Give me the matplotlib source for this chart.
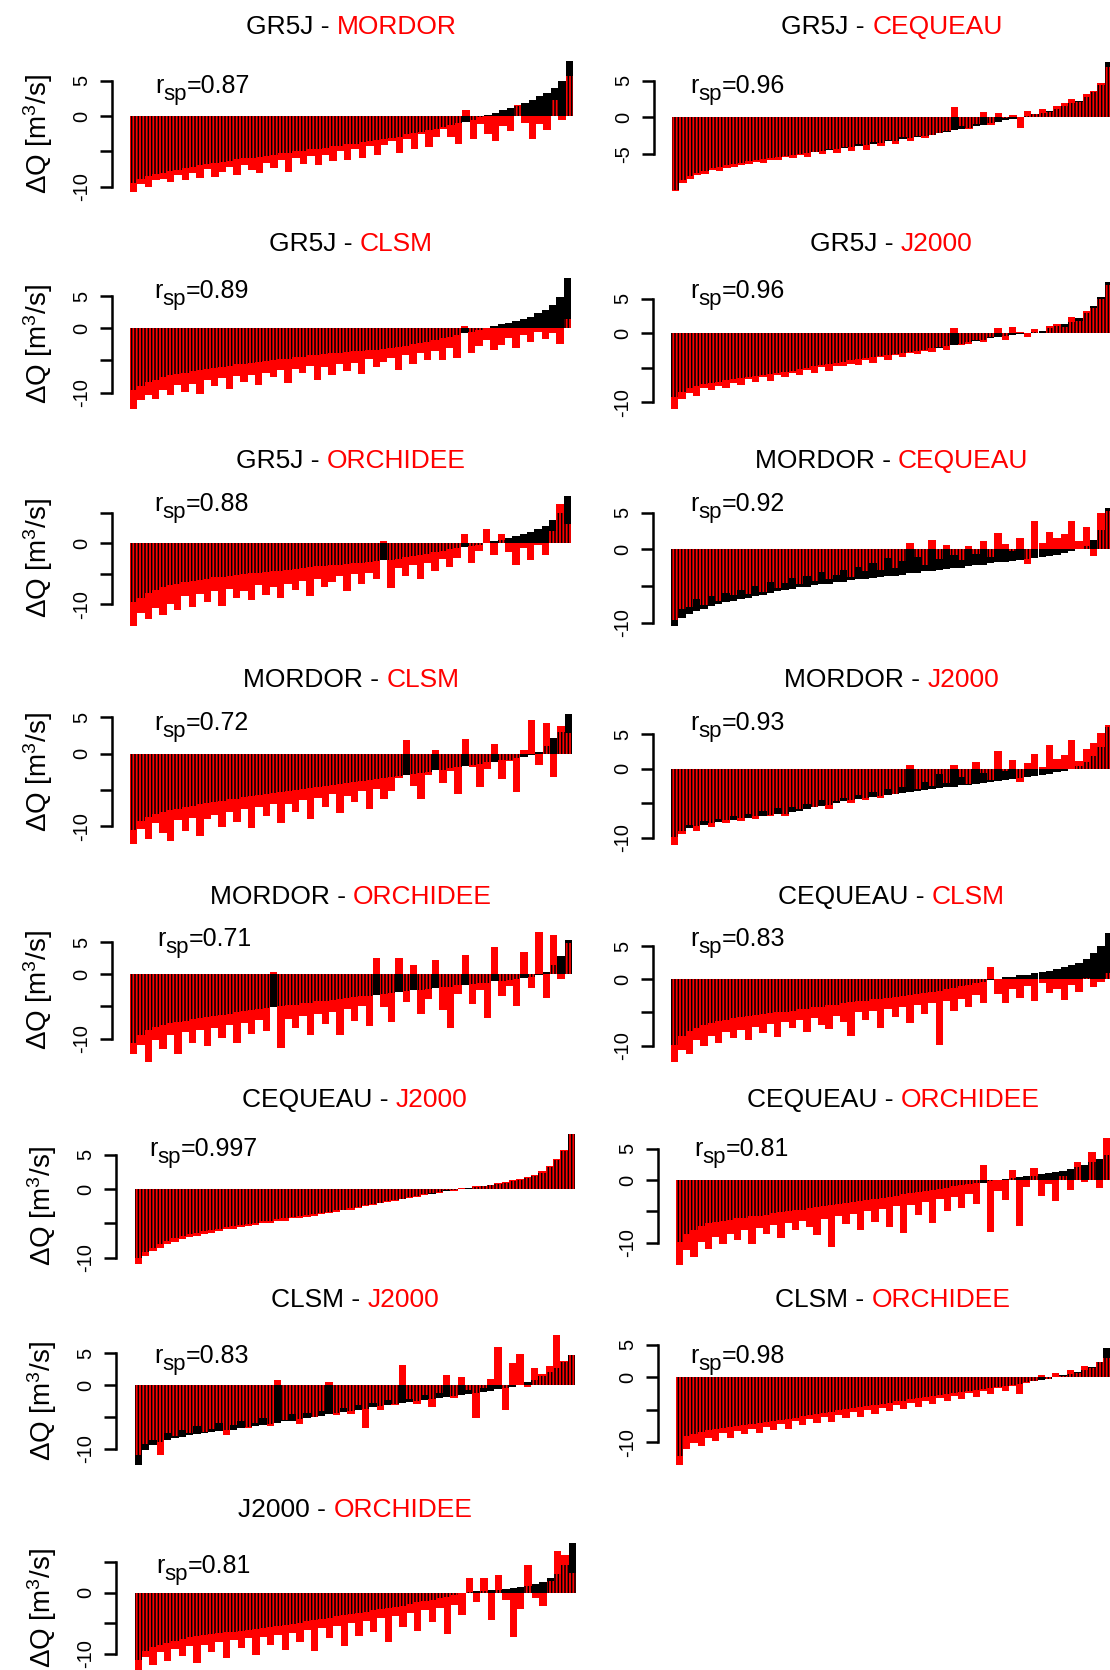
import numpy as np
import matplotlib
matplotlib.use("Agg")
import matplotlib.pyplot as plt

plt.rcParams['font.family'] = ['Liberation Sans', 'DejaVu Sans']
plt.rcParams['mathtext.fontset'] = 'custom'
plt.rcParams['mathtext.rm'] = 'Liberation Sans'
plt.rcParams['mathtext.it'] = 'Liberation Sans'
plt.rcParams['mathtext.default'] = 'regular'
plt.rcParams['hatch.linewidth'] = 1.1

# model pairs: first model (black, sorted), second model (red)
pairs = [("GR5J", "MORDOR"), ("GR5J", "CEQUEAU"), ("GR5J", "CLSM"), ("GR5J", "J2000"),
         ("GR5J", "ORCHIDEE"), ("MORDOR", "CEQUEAU"), ("MORDOR", "CLSM"), ("MORDOR", "J2000"),
         ("MORDOR", "ORCHIDEE"), ("CEQUEAU", "CLSM"), ("CEQUEAU", "J2000"), ("CEQUEAU", "ORCHIDEE"),
         ("CLSM", "J2000"), ("CLSM", "ORCHIDEE"), ("J2000", "ORCHIDEE")]
rsp = ["0.87", "0.96", "0.89", "0.96", "0.88", "0.92", "0.72", "0.93",
       "0.71", "0.83", "0.997", "0.81", "0.83", "0.98", "0.81"]

# delta Q [m3/s] per catchment (sorted by the first model)
gr5j_mordor_black = [-9.5, -8.9, -8.5, -8.2, -8.0, -7.8, -7.6, -7.4, -7.2, -7.0,
                     -6.8, -6.6, -6.5, -6.3, -6.1, -6.0, -5.9, -5.8, -5.6, -5.5,
                     -5.3, -5.2, -5.0, -4.9, -4.7, -4.6, -4.5, -4.3, -4.2, -4.0,
                     -3.9, -3.7, -3.6, -3.4, -3.2, -3.1, -2.9, -2.6, -2.4, -2.2,
                     -2.0, -1.8, -1.5, -1.3, -1.0, -0.8, -0.5, -0.2, 0.1, 0.4,
                     0.8, 1.1, 1.4, 1.8, 2.3, 2.8, 3.3, 4.0, 5.0, 7.8]
gr5j_mordor_red = [-10.7, -9.6, -10.1, -9.0, -8.9, -9.4, -8.3, -9.1, -8.0, -8.8,
                   -7.5, -8.6, -7.9, -7.2, -8.4, -6.9, -7.6, -8.0, -6.6, -7.3,
                   -6.2, -7.9, -6.0, -6.8, -5.7, -7.0, -5.5, -6.4, -5.0, -6.2,
                   -4.7, -5.9, -4.3, -5.5, -4.1, -3.5, -5.2, -3.2, -4.6, -2.6,
                   -4.4, -3.0, -1.8, -2.9, -4.0, 0.9, -3.2, -1.1, -2.5, -3.6,
                   -1.4, -2.1, 1.5, -1.0, -3.3, -1.2, -2.0, 2.2, -0.5, 5.6]

gr5j_cequeau_black = [-10.0, -8.6, -8.0, -7.6, -7.3, -7.0, -6.8, -6.6, -6.4, -6.2,
                      -6.0, -5.9, -5.7, -5.6, -5.4, -5.3, -5.1, -5.0, -4.9, -4.7,
                      -4.6, -4.5, -4.3, -4.2, -4.0, -3.9, -3.8, -3.6, -3.5, -3.3,
                      -3.2, -3.0, -2.9, -2.7, -2.5, -2.4, -2.2, -2.0, -1.8, -1.6,
                      -1.4, -1.2, -1.0, -0.8, -0.6, -0.4, -0.2, 0.0, 0.2, 0.4,
                      0.6, 0.9, 1.2, 1.5, 1.9, 2.3, 2.8, 3.4, 4.4, 7.6]
gr5j_cequeau_red = [-10.1, -9.0, -8.5, -7.9, -7.8, -7.2, -7.3, -6.9, -6.8, -6.5,
                    -6.4, -6.1, -6.3, -5.8, -5.9, -5.4, -5.6, -5.1, -5.4, -4.8,
                    -5.0, -4.4, -4.9, -4.1, -4.6, -3.7, -4.5, -3.4, -3.9, -3.1,
                    -3.6, -2.7, -3.3, -2.5, -2.9, -2.4, -2.1, -1.9, 1.4, -1.2,
                    -1.6, -0.9, 0.7, -1.1, 0.6, -0.1, 0.3, -1.5, 0.8, 0.5,
                    1.2, 0.7, 1.6, 1.9, 2.5, 2.1, 3.2, 3.6, 4.7, 6.9]

gr5j_clsm_black = [-9.6, -8.9, -8.4, -8.0, -7.6, -7.3, -7.1, -6.9, -6.7, -6.5,
                   -6.3, -6.1, -6.0, -5.8, -5.6, -5.5, -5.4, -5.2, -5.1, -5.0,
                   -4.8, -4.7, -4.5, -4.4, -4.2, -4.1, -4.0, -3.9, -3.8, -3.7,
                   -3.6, -3.5, -3.4, -3.3, -3.2, -3.1, -2.9, -2.7, -2.5, -2.3,
                   -2.1, -1.8, -1.5, -1.3, -1.0, -0.8, -0.5, -0.2, 0.0, 0.3,
                   0.6, 0.9, 1.2, 1.5, 1.8, 2.3, 2.9, 3.6, 4.8, 7.8]
gr5j_clsm_red = [-12.6, -11.2, -10.3, -11.0, -9.6, -10.4, -8.8, -9.9, -8.6, -10.2,
                 -8.1, -9.0, -7.7, -9.5, -7.4, -8.3, -7.2, -8.8, -6.9, -7.6,
                 -6.5, -8.5, -6.3, -7.0, -5.9, -8.1, -6.0, -7.3, -5.6, -6.6,
                 -5.4, -7.1, -4.7, -6.0, -5.3, -4.6, -6.5, -4.2, -5.5, -3.8,
                 -4.9, -3.5, -5.0, -3.0, -4.6, 0.3, -3.9, -2.8, -1.8, -3.4,
                 -2.6, -1.5, -3.1, -1.0, -2.2, -0.6, -1.7, -0.8, -2.4, 1.4]

gr5j_j2000_black = [-9.2, -8.5, -8.0, -7.7, -7.4, -7.2, -7.0, -6.8, -6.7, -6.5,
                    -6.3, -6.2, -6.0, -5.9, -5.7, -5.6, -5.4, -5.2, -5.0, -4.8,
                    -4.6, -4.5, -4.3, -4.1, -3.9, -3.8, -3.6, -3.5, -3.3, -3.2,
                    -3.0, -2.9, -2.7, -2.6, -2.4, -2.2, -2.1, -1.9, -1.7, -1.5,
                    -1.3, -1.1, -0.9, -0.7, -0.6, -0.4, -0.3, -0.1, 0.0, 0.2,
                    0.4, 0.7, 1.0, 1.3, 1.7, 2.2, 2.9, 3.9, 5.2, 7.5]
gr5j_j2000_red = [-11.0, -9.6, -8.6, -9.1, -8.0, -8.3, -7.6, -7.9, -7.2, -7.5,
                  -6.7, -7.1, -6.4, -6.9, -6.1, -6.3, -5.8, -6.0, -5.3, -5.7,
                  -4.9, -5.5, -4.7, -4.8, -4.4, -4.6, -3.9, -4.3, -3.5, -3.9,
                  -3.1, -3.4, -2.8, -3.0, -2.5, -2.7, -2.0, -2.4, 0.8, -1.7,
                  -1.5, -1.0, -1.3, -0.5, 0.7, -1.0, 0.9, 0.2, -0.5, 0.6,
                  0.1, 1.0, 1.4, 0.9, 2.3, 1.8, 3.2, 3.6, 5.0, 7.0]

gr5j_orchidee_black = [-9.7, -8.9, -8.2, -7.7, -7.2, -6.9, -6.6, -6.4, -6.2, -6.0,
                       -5.8, -5.6, -5.5, -5.3, -5.2, -5.0, -4.9, -4.8, -4.7, -4.6,
                       -4.5, -4.4, -4.2, -4.1, -3.9, -3.8, -3.7, -3.6, -3.5, -3.4,
                       -3.3, -3.2, -3.1, -2.9, -2.8, -2.7, -2.5, -2.3, -2.1, -1.9,
                       -1.7, -1.5, -1.3, -1.0, -0.8, -0.6, -0.4, -0.2, 0.0, 0.3,
                       0.6, 0.9, 1.2, 1.5, 1.9, 2.3, 2.9, 3.8, 5.0, 7.7]
gr5j_orchidee_red = [-13.6, -11.5, -12.4, -10.6, -11.8, -9.9, -10.9, -8.7, -10.5, -8.3,
                     -9.6, -7.8, -10.2, -7.5, -8.9, -7.9, -9.3, -6.8, -8.4, -7.2,
                     -9.0, -6.6, -7.7, -6.1, -8.6, -5.8, -7.1, -6.3, -5.4, -7.9,
                     -5.1, -6.6, -4.8, -5.9, 0.4, -7.3, -4.0, -5.4, -3.6, -5.8,
                     -3.2, -4.5, -2.6, -3.9, -2.4, 1.6, -3.3, -1.2, 2.4, -2.0,
                     1.6, -1.5, -3.6, -0.7, -2.8, -0.2, -1.9, 2.0, 6.5, 3.2]

mordor_cequeau_black = [-10.5, -9.4, -8.8, -8.4, -8.1, -7.8, -7.5, -7.2, -7.0, -6.8,
                        -6.6, -6.4, -6.2, -5.9, -5.7, -5.5, -5.4, -5.2, -5.1, -4.9,
                        -4.8, -4.7, -4.5, -4.4, -4.2, -4.1, -4.0, -3.9, -3.8, -3.7,
                        -3.6, -3.5, -3.3, -3.2, -3.0, -2.9, -2.8, -2.7, -2.6, -2.5,
                        -2.3, -2.2, -2.1, -1.9, -1.8, -1.7, -1.6, -1.5, -1.3, -1.2,
                        -1.1, -0.9, -0.8, -0.5, -0.2, 0.0, 0.5, 1.3, 2.6, 5.6]
mordor_cequeau_red = [-9.6, -8.1, -7.9, -6.8, -7.6, -6.4, -7.0, -5.9, -6.3, -5.6,
                      -6.1, -5.0, -5.8, -4.4, -5.3, -4.6, -3.9, -4.8, -3.6, -4.3,
                      -3.1, -4.0, -3.5, -2.8, -3.8, -2.4, -3.0, -1.9, -2.8, -1.2,
                      -2.5, -1.6, 0.8, -1.0, -2.2, 1.3, -1.3, 0.6, -0.8, -1.5,
                      0.4, -0.6, 1.2, -1.1, 2.2, 0.7, -0.3, 1.5, -2.0, 3.8,
                      0.8, 2.4, 1.6, 2.1, 3.8, 1.2, 3.1, -0.9, 4.9, 5.2]

mordor_clsm_black = [-10.5, -9.3, -8.7, -8.3, -8.0, -7.8, -7.6, -7.4, -7.2, -7.0,
                     -6.8, -6.6, -6.5, -6.3, -6.2, -6.0, -5.9, -5.7, -5.6, -5.4,
                     -5.3, -5.1, -5.0, -4.9, -4.7, -4.6, -4.5, -4.3, -4.2, -4.0,
                     -3.9, -3.8, -3.6, -3.5, -3.3, -3.2, -3.1, -2.9, -2.8, -2.6,
                     -2.5, -2.3, -2.2, -2.0, -1.8, -1.7, -1.5, -1.4, -1.2, -1.1,
                     -0.9, -0.8, -0.6, -0.4, -0.2, 0.3, 1.0, 2.1, 3.0, 5.5]
mordor_clsm_red = [-12.5, -10.4, -11.8, -9.6, -10.9, -12.0, -9.2, -10.6, -8.8, -11.3,
                   -9.0, -8.4, -10.1, -8.0, -9.4, -7.6, -10.3, -7.3, -8.6, -7.0,
                   -9.6, -6.9, -8.1, -6.4, -9.0, -6.1, -7.4, -5.6, -8.2, -5.8,
                   -6.7, -5.2, -7.6, -4.9, -6.3, -5.1, -3.4, 1.9, -4.4, -6.2,
                   -3.0, 0.5, -4.0, -2.4, -5.5, 2.0, -1.9, -4.6, -2.1, 1.4,
                   -3.5, -1.0, -5.3, 0.5, 4.6, -1.6, 4.3, -3.2, 3.8, 2.8]

mordor_j2000_black = [-9.9, -9.1, -8.6, -8.3, -8.1, -7.9, -7.7, -7.5, -7.4, -7.2,
                      -7.1, -6.9, -6.8, -6.7, -6.6, -6.5, -6.3, -6.1, -5.8, -5.6,
                      -5.4, -5.2, -5.0, -4.7, -4.5, -4.4, -4.2, -4.1, -3.9, -3.8,
                      -3.6, -3.5, -3.4, -3.2, -3.1, -3.0, -2.8, -2.7, -2.6, -2.4,
                      -2.3, -2.2, -2.0, -1.9, -1.8, -1.6, -1.5, -1.3, -1.2, -1.0,
                      -0.9, -0.7, -0.5, -0.3, 0.0, 0.4, 1.0, 1.8, 3.2, 6.0]
mordor_j2000_red = [-11.1, -9.4, -8.2, -9.0, -7.6, -8.4, -7.3, -7.9, -6.9, -7.6,
                    -6.6, -7.3, -6.2, -6.9, -5.7, -6.8, -5.5, -5.9, -5.1, -5.6,
                    -4.6, -5.8, -4.7, -4.3, -4.9, -3.8, -4.5, -3.4, -4.3, -2.9,
                    -3.6, -2.6, 0.6, -3.0, -1.9, -2.5, -0.8, -2.1, 0.5, -1.2,
                    -2.2, 0.9, -0.6, -1.6, 2.6, -0.3, 1.2, -1.9, 0.8, 2.1,
                    0.3, 3.4, 1.4, 2.0, 4.2, 1.1, 2.9, 3.7, 5.2, 6.3]

mordor_orchidee_black = [-10.7, -9.4, -8.6, -8.2, -7.9, -7.6, -7.4, -7.2, -7.0, -6.8,
                         -6.6, -6.4, -6.3, -6.1, -5.9, -5.7, -5.5, -5.4, -5.2, -5.1,
                         -5.0, -4.8, -4.7, -4.5, -4.4, -4.2, -4.1, -4.0, -3.8, -3.7,
                         -3.6, -3.4, -3.3, -3.2, -3.0, -2.9, -2.8, -2.6, -2.5, -2.4,
                         -2.3, -2.1, -2.0, -1.9, -1.7, -1.6, -1.5, -1.4, -1.3, -1.1,
                         -1.0, -0.9, -0.7, -0.6, -0.4, -0.1, 0.4, 1.4, 2.8, 5.4]
mordor_orchidee_red = [-12.3, -11.0, -13.6, -10.2, -11.6, -9.5, -12.4, -9.0, -10.7, -8.6,
                       -11.2, -8.3, -9.9, -7.9, -10.6, -7.6, -9.2, -7.1, -8.8, 0.3,
                       -11.4, -6.9, -8.3, -6.4, -9.5, -6.1, -7.7, -5.8, -9.4, -5.4,
                       -7.2, -4.9, -8.0, 2.5, -5.1, -7.4, 2.5, -4.3, 1.4, -6.1,
                       -3.8, 2.2, -5.5, -8.4, -3.1, 3.0, -4.6, -2.5, -6.8, 4.3,
                       -3.4, -1.8, -5.0, 3.5, -2.2, 6.6, -3.7, 6.1, -0.8, 4.8]

cequeau_clsm_black = [-9.9, -8.6, -7.8, -7.3, -6.9, -6.6, -6.3, -6.1, -5.9, -5.7,
                      -5.6, -5.4, -5.3, -5.1, -5.0, -4.9, -4.7, -4.5, -4.4, -4.2,
                      -4.1, -3.9, -3.8, -3.6, -3.4, -3.3, -3.2, -3.0, -2.9, -2.8,
                      -2.7, -2.5, -2.4, -2.2, -2.1, -1.9, -1.7, -1.5, -1.3, -1.0,
                      -0.8, -0.6, -0.4, -0.1, 0.1, 0.3, 0.4, 0.6, 0.7, 0.9,
                      1.1, 1.3, 1.5, 1.8, 2.1, 2.5, 3.0, 3.9, 5.0, 7.0]
cequeau_clsm_red = [-12.5, -10.6, -11.3, -9.2, -10.1, -8.5, -9.6, -8.0, -8.8, -7.6,
                    -9.2, -7.2, -8.1, -6.8, -8.7, -6.5, -7.4, -6.2, -8.0, -5.8,
                    -6.9, -7.5, -5.5, -6.4, -8.6, -5.0, -6.1, -4.8, -7.3, -4.5,
                    -5.7, -4.2, -6.6, -3.9, -5.3, -3.5, -9.9, -3.3, -4.8, -2.9,
                    -4.2, -2.4, -3.6, 1.9, -2.2, -3.5, -1.4, -2.8, -1.0, -3.3,
                    -0.6, -2.1, -1.5, -3.1, -0.8, -1.9, 0.2, -1.2, -0.4, 0.9]

cequeau_j2000_black = [-10.0, -9.2, -8.6, -8.1, -7.6, -7.2, -6.9, -6.6, -6.4, -6.2,
                       -6.0, -5.8, -5.6, -5.4, -5.2, -5.1, -4.9, -4.7, -4.6, -4.4,
                       -4.3, -4.1, -4.0, -3.8, -3.7, -3.5, -3.3, -3.1, -3.0, -2.8,
                       -2.6, -2.4, -2.2, -2.0, -1.8, -1.6, -1.4, -1.2, -1.0, -0.8,
                       -0.7, -0.5, -0.3, -0.2, 0.0, 0.1, 0.3, 0.4, 0.6, 0.7,
                       0.9, 1.1, 1.3, 1.6, 1.9, 2.4, 3.2, 4.2, 5.5, 8.0]
cequeau_j2000_red = [-10.9, -9.8, -9.0, -8.6, -8.0, -7.7, -7.3, -7.0, -6.8, -6.5,
                     -6.4, -6.1, -5.9, -5.8, -5.5, -5.4, -5.2, -5.0, -4.9, -4.6,
                     -4.6, -4.3, -4.2, -4.1, -3.9, -3.7, -3.5, -3.4, -3.1, -3.0,
                     -2.8, -2.5, -2.4, -2.1, -1.9, -1.8, -1.5, -1.3, -1.1, -0.9,
                     -0.6, -0.6, -0.2, -0.3, 0.2, 0.0, 0.4, 0.5, 0.6, 0.9,
                     1.0, 1.3, 1.4, 1.8, 2.0, 2.6, 3.3, 4.4, 5.7, 8.0]

cequeau_orchidee_black = [-9.8, -8.6, -7.9, -7.3, -6.9, -6.7, -6.5, -6.3, -6.1, -6.0,
                          -5.8, -5.7, -5.5, -5.3, -5.1, -5.0, -4.8, -4.7, -4.5, -4.3,
                          -4.2, -4.0, -3.8, -3.7, -3.5, -3.3, -3.2, -3.0, -2.8, -2.7,
                          -2.5, -2.3, -2.1, -1.9, -1.7, -1.6, -1.4, -1.2, -1.0, -0.8,
                          -0.7, -0.5, -0.4, -0.2, 0.0, 0.1, 0.3, 0.4, 0.6, 0.7,
                          0.9, 1.1, 1.2, 1.4, 1.7, 2.0, 2.4, 2.9, 3.4, 4.0]
cequeau_orchidee_red = [-13.5, -11.2, -12.3, -9.9, -11.0, -9.1, -10.2, -8.6, -9.5, -8.0,
                        -10.1, -7.7, -8.6, -7.1, -9.3, -6.8, -8.0, -6.5, -7.4, -8.7,
                        -6.2, -10.6, -5.8, -7.0, -5.4, -8.0, -5.0, -6.6, -4.6, -7.4,
                        -4.2, -8.5, -3.9, -5.6, -3.5, -6.9, -3.1, -5.0, -2.7, -4.4,
                        -2.2, -3.8, 2.4, -8.2, -1.8, -3.2, 1.6, -7.3, -1.1, 1.9,
                        -2.5, -0.6, -3.4, 0.6, -1.6, 2.8, -0.3, 4.5, -1.2, 6.6]

clsm_j2000_black = [-12.6, -10.2, -9.4, -8.9, -8.6, -8.3, -8.1, -7.9, -7.7, -7.5,
                    -7.4, -7.2, -7.1, -7.0, -6.8, -6.6, -6.5, -6.3, -6.1, -5.9,
                    -5.7, -5.6, -5.4, -5.2, -5.0, -4.8, -4.6, -4.4, -4.3, -4.1,
                    -3.9, -3.7, -3.5, -3.3, -3.1, -3.0, -2.8, -2.6, -2.5, -2.3,
                    -2.2, -2.0, -1.9, -1.7, -1.6, -1.4, -1.3, -1.1, -0.9, -0.7,
                    -0.5, -0.3, 0.0, 0.4, 0.8, 1.4, 2.0, 2.7, 3.6, 4.7]
clsm_j2000_red = [-11.0, -9.3, -8.6, -10.9, -7.6, -8.0, -7.1, -7.6, -6.5, -7.3,
                  -6.9, -6.0, -7.8, -6.2, -5.6, -6.8, -5.9, -5.1, -6.4, 0.8,
                  -5.5, -4.6, -6.1, -4.4, -5.0, -4.1, 0.4, -4.7, -3.6, -4.6,
                  -3.1, -6.8, -2.8, -3.9, -2.4, -3.2, 3.1, -2.2, -2.9, -1.6,
                  -3.4, -1.2, 1.6, -2.0, 1.3, -0.8, -5.2, -0.5, 1.0, 5.9,
                  -3.9, 3.4, 4.9, -0.3, 2.6, 1.7, 2.9, 7.8, 3.8, 4.7]

clsm_orchidee_black = [-12.2, -9.1, -8.7, -8.4, -8.1, -7.9, -7.8, -7.6, -7.5, -7.3,
                       -7.2, -7.0, -6.9, -6.7, -6.6, -6.4, -6.2, -6.0, -5.8, -5.7,
                       -5.5, -5.3, -5.1, -4.9, -4.8, -4.6, -4.4, -4.3, -4.1, -3.9,
                       -3.7, -3.6, -3.4, -3.2, -3.1, -2.9, -2.8, -2.6, -2.4, -2.3,
                       -2.1, -2.0, -1.8, -1.6, -1.5, -1.3, -1.2, -1.0, -0.8, -0.6,
                       -0.4, -0.2, 0.0, 0.3, 0.5, 0.8, 1.1, 1.6, 2.4, 4.5]
clsm_orchidee_red = [-13.5, -11.0, -10.1, -10.6, -9.3, -9.8, -8.6, -9.4, -8.3, -8.8,
                     -7.9, -8.6, -7.6, -8.1, -7.2, -7.9, -6.8, -7.4, -6.5, -7.1,
                     -6.1, -6.9, -5.8, -6.3, -5.4, -6.1, -5.0, -5.7, -4.7, -5.2,
                     -4.3, -4.9, -3.9, -4.5, -3.6, -4.1, -3.2, -3.7, -2.9, -3.3,
                     -2.4, -3.0, -2.1, -2.5, -1.7, -2.1, -1.3, -2.5, -0.9, -0.6,
                     0.3, -0.2, 0.6, 0.2, 1.1, 0.7, 1.8, 1.4, 2.3, 3.0]

j2000_orchidee_black = [-11.1, -9.6, -8.9, -8.5, -8.2, -7.9, -7.6, -7.3, -7.1, -6.9,
                        -6.8, -6.6, -6.5, -6.4, -6.3, -6.1, -6.0, -5.8, -5.6, -5.4,
                        -5.3, -5.1, -4.9, -4.7, -4.5, -4.3, -4.1, -3.9, -3.7, -3.5,
                        -3.3, -3.1, -2.9, -2.7, -2.5, -2.3, -2.1, -1.8, -1.6, -1.4,
                        -1.2, -0.9, -0.7, -0.4, -0.1, 0.1, 0.2, 0.3, 0.4, 0.5,
                        0.6, 0.7, 0.9, 1.1, 1.4, 1.8, 2.4, 3.1, 4.5, 8.1]
j2000_orchidee_red = [-12.7, -10.5, -11.9, -9.7, -11.2, -9.3, -10.4, -8.7, -11.6, -8.5,
                      -9.8, -8.0, -10.7, -7.8, -9.1, -7.5, -10.2, -7.2, -8.6, -6.9,
                      -9.4, -6.6, -8.0, -6.1, -9.6, -5.8, -7.5, -5.4, -8.8, -5.0,
                      -7.1, -4.6, -6.4, -4.2, -8.1, -3.8, -5.7, -3.4, -6.2, -2.9,
                      -4.8, -2.5, -6.7, -2.0, -3.6, 2.4, -1.6, 2.4, -4.5, 2.9,
                      -1.2, -7.3, -2.6, 4.6, -0.8, -2.2, 1.9, 6.8, 6.2, 3.2]

black_series = [gr5j_mordor_black, gr5j_cequeau_black, gr5j_clsm_black, gr5j_j2000_black,
                gr5j_orchidee_black, mordor_cequeau_black, mordor_clsm_black, mordor_j2000_black,
                mordor_orchidee_black, cequeau_clsm_black, cequeau_j2000_black,
                cequeau_orchidee_black, clsm_j2000_black, clsm_orchidee_black,
                j2000_orchidee_black]
red_series = [gr5j_mordor_red, gr5j_cequeau_red, gr5j_clsm_red, gr5j_j2000_red,
              gr5j_orchidee_red, mordor_cequeau_red, mordor_clsm_red, mordor_j2000_red,
              mordor_orchidee_red, cequeau_clsm_red, cequeau_j2000_red,
              cequeau_orchidee_red, clsm_j2000_red, clsm_orchidee_red,
              j2000_orchidee_red]

# layout, in pixels of the 1110x1670 output
W, H = 1110, 1670
bar_left = [130, 672, 130, 671, 130, 671, 130, 671, 130, 671, 134.5, 676, 134.5, 676, 134.5]
bar_right = [573, 1112, 571, 1112, 571, 1112, 572, 1112, 572, 1112, 575, 1110, 575, 1110, 576]
zero_px = [116, 117.3, 328.3, 333.3, 543.3, 549.3, 753.7, 768.7, 974.3, 979.3,
           1189, 1180, 1385, 1377.3, 1592.7]
px_per_unit = [7.07, 7.3, 6.44, 6.89, 6.1, 7.33, 7.25, 6.9, 6.44, 6.64,
               6.85, 6.29, 6.38, 6.49, 6.1]
title_px = [25, 241.7, 459.3, 678.3, 895, 1098.3, 1298.3, 1508.3]
rsp_px = [85, 290, 503.3, 721.7, 938.3, 1148.3, 1355, 1565]
rsp_left_x = [155, 154, 154, 154, 157, 149, 154, 156]
rsp_right_x = [690, 690, 690, 690, 690, 694, 690]

fig = plt.figure(figsize=(W / 100, H / 100), dpi=100)
renderer = fig.canvas.get_renderer()


def fx(x):
    return x / W


def fy(y):
    return 1 - y / H


def width_of(s, size):
    t = fig.text(0, 0, s, fontsize=size)
    w = t.get_window_extent(renderer).width
    t.remove()
    return w


for k in range(15):
    b = np.array(black_series[k])
    r = np.array(red_series[k])
    assert len(b) == len(r), k
    n = len(b)
    row, col = k // 2, k % 2
    x0, x1 = bar_left[k], bar_right[k]
    z, s = zero_px[k], px_per_unit[k]
    ylo, yhi = -16, 10
    top = z - yhi * s
    bot = z - ylo * s
    ax = fig.add_axes([fx(x0), fy(bot), (x1 - x0) / W, (bot - top) / H])
    ax.set_facecolor('none')
    ax.set_xlim(-0.5, n - 0.5)
    ax.set_ylim(ylo, yhi)

    idx = np.arange(n)
    ax.bar(idx, b, width=1.0, color='black', linewidth=0)
    ax.bar(idx, r, width=1.0, color='red', linewidth=0)
    same = np.sign(b) == np.sign(r)
    overlap = np.where(same, np.sign(b) * np.minimum(np.abs(b), np.abs(r)), 0)
    ax.bar(idx, overlap, width=1.0, facecolor='none', edgecolor='black',
           linewidth=0, hatch='|||||')

    if k == 1:
        ticks = [-5, 0, 5]
        labels = ['-5', '0', '5']
    else:
        ticks = [-10, -5, 0, 5]
        labels = ['-10', '', '0', '' if k in (4, 14) else '5']
    ax.set_yticks(ticks)
    ax.set_yticklabels(labels)
    ax.set_xticks([])
    for side in ('top', 'right', 'bottom'):
        ax.spines[side].set_visible(False)
    ax.spines['left'].set_bounds(min(ticks), max(ticks))
    ax.spines['left'].set_position(('outward', 13))
    ax.spines['left'].set_linewidth(1.8)
    ax.tick_params(axis='y', length=9, width=1.8, labelsize=14.5, pad=6,
                   labelrotation=90)
    for lab in ax.get_yticklabels():
        lab.set_va('center')

    # title: first model black, second model red
    a, m = pairs[k]
    cx = (x0 + x1) / 2
    ty = title_px[row] + 9
    wfull = width_of(a + " - " + m, 19)
    fig.text(fx(cx - wfull / 2), fy(ty), a + " - ", fontsize=19, ha='left', va='baseline')
    fig.text(fx(cx + wfull / 2), fy(ty), m, fontsize=19, ha='right', va='baseline',
             color='red')

    # correlation r_sp, subscript drawn at nearly full size as in the original
    rx = rsp_left_x[row] if col == 0 else rsp_right_x[row]
    by = rsp_px[row] + 8
    w_r = width_of("r", 18)
    w_sp = width_of("sp", 16)
    fig.text(fx(rx), fy(by), "r", fontsize=18, ha='left', va='baseline')
    fig.text(fx(rx + w_r), fy(by + 7), "sp", fontsize=16, ha='left', va='baseline')
    fig.text(fx(rx + w_r + w_sp), fy(by), "=" + rsp[k], fontsize=18,
             ha='left', va='baseline')

    if col == 0:
        ax_x = x0 - 18
        fig.text(fx(ax_x - 74), fy(z + 2.5 * s), "ΔQ [m$^3$/s]", fontsize=20,
                 rotation=90, ha='center', va='center')

fig.savefig("out.png", dpi=100)
